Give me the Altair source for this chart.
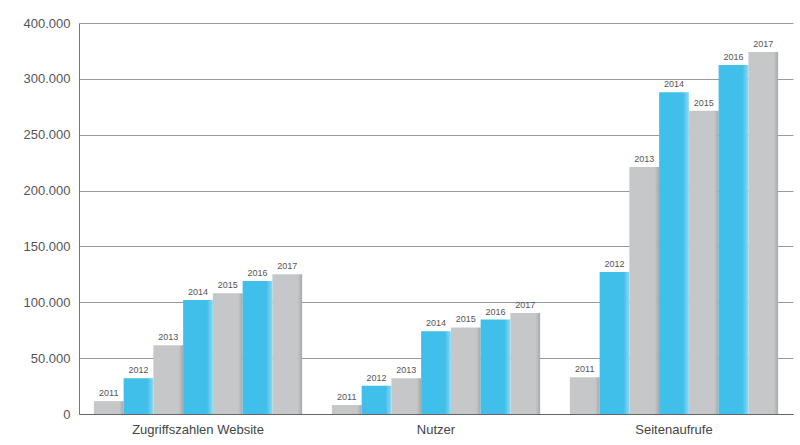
import altair as alt
import pandas as pd

groups = ["Zugriffszahlen Website", "Nutzer", "Seitenaufrufe"]
years = ["2011", "2012", "2013", "2014", "2015", "2016", "2017"]
website = [11500, 32000, 61500, 102000, 108000, 119000, 125000]
nutzer = [8000, 25300, 32000, 74000, 77500, 84500, 90500]
seiten = [33000, 127000, 221000, 288000, 271500, 312500, 324000]
blue_years = ["2012", "2014", "2016"]

tick_values = [0, 50000, 100000, 150000, 200000, 250000, 300000, 350000]
tick_labels = ["0", "50.000", "100.000", "150.000", "200.000", "250.000", "300.000", "400.000"]

rows = []
for g, vals in zip(groups, [website, nutzer, seiten]):
    for y, v in zip(years, vals):
        rows.append({"gruppe": g, "jahr": y, "wert": v,
                     "farbe": "blau" if y in blue_years else "grau"})
df = pd.DataFrame(rows)

label_expr = " : ".join(
    [f"datum.value == {v} ? '{l}'" for v, l in zip(tick_values, tick_labels)]
) + " : ''"

font = "Liberation Sans"

x_enc = alt.X("gruppe:N", sort=groups,
              scale=alt.Scale(paddingInner=0, paddingOuter=0),
              axis=alt.Axis(title=None, labelAngle=0, ticks=False, grid=False,
                            domainColor="#666",
                            labelFontSize=13, labelColor="#444", labelPadding=9,
                            labelFont=font))
xo_enc = alt.XOffset("jahr:N", sort=years,
                     scale=alt.Scale(paddingInner=0, paddingOuter=0.5))
y_enc = alt.Y("wert:Q",
              scale=alt.Scale(domain=[0, 350000], nice=False),
              axis=alt.Axis(title=None, values=tick_values, labelExpr=label_expr,
                            ticks=False, grid=True, domainColor="#777",
                            gridColor="#9a9a9a",
                            labelFontSize=13, labelColor="#555", labelPadding=9,
                            labelFont=font))

base = alt.Chart(df).encode(x=x_enc, xOffset=xo_enc, y=y_enc)

blue_grad = alt.Gradient(gradient="linear", x1=0, x2=1, y1=0, y2=0,
                         stops=[alt.GradientStop(color="#3fbfea", offset=0),
                                alt.GradientStop(color="#3fbfea", offset=0.8),
                                alt.GradientStop(color="#8fd9f3", offset=1)])
gray_grad = alt.Gradient(gradient="linear", x1=0, x2=1, y1=0, y2=0,
                         stops=[alt.GradientStop(color="#c6c7c9", offset=0),
                                alt.GradientStop(color="#c6c7c9", offset=0.85),
                                alt.GradientStop(color="#a8a9ab", offset=1)])

blue_bars = base.transform_filter(alt.datum.farbe == "blau").mark_bar(color=blue_grad)
gray_bars = base.transform_filter(alt.datum.farbe == "grau").mark_bar(color=gray_grad)

labels = base.mark_text(baseline="bottom", dy=-3, fontSize=9, color="#555",
                        font=font).encode(text="jahr:N")

chart = alt.layer(gray_bars, blue_bars, labels).properties(
    width=714, height=391,
    autosize=alt.AutoSizeParams(type="none"),
    padding={"left": 79, "top": 23, "right": 7, "bottom": 31},
).configure_view(stroke=None)

chart.save("out.html", embed_options={"renderer": "svg", "actions": False})
